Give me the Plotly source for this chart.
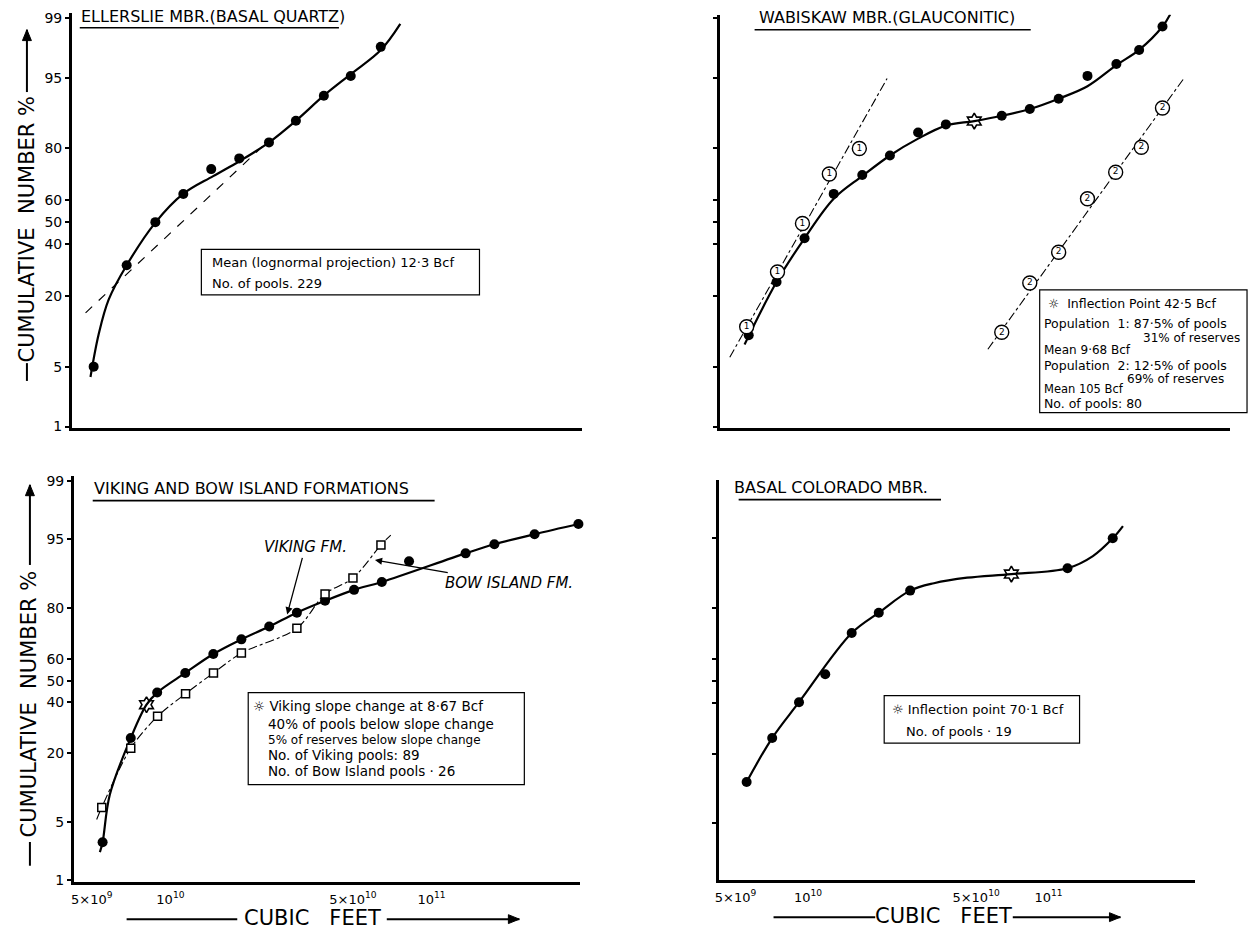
import math
from statistics import NormalDist
import plotly.graph_objects as go

# ---------------- data (cubic feet, cumulative number %) ----------------
# Ellerslie Mbr. (Basal Quartz)
ell_x = [5.09e9, 6.81e9, 8.77e9, 1.122e10, 1.435e10, 1.837e10, 2.388e10, 3.027e10, 3.873e10, 4.909e10, 6.397e10]
ell_pct = [5.0, 31.2, 50.0, 62.6, 72.7, 76.6, 81.8, 87.6, 92.5, 95.2, 97.7]
ell_curve_x = [4.95e9, 5.32e9, 5.81e9, 6.81e9, 8.77e9, 1.12e10, 1.46e10, 1.84e10, 2.39e10, 3.03e10, 3.87e10, 4.91e10, 6.4e10, 7.6e10]
ell_curve_pct = [3.9, 10.1, 18.9, 31.2, 49.8, 62.6, 70.0, 75.6, 81.8, 87.6, 92.5, 95.4, 97.5, 98.8]
ell_proj_x = [4.74e9, 2.41e10]
ell_proj_pct = [15.1, 82.7]

# Wabiskaw Mbr. (Glauconitic)
wab_x = [5.29e9, 6.84e9, 8.86e9, 1.16e10, 1.51e10, 1.95e10, 2.53e10, 3.27e10, 5.48e10, 7.10e10, 9.27e10, 1.21e11, 1.58e11, 1.95e11, 2.42e11]
wab_pct = [9.9, 24.8, 42.7, 62.6, 70.4, 77.6, 84.6, 86.7, 88.7, 90.1, 92.0, 95.2, 96.4, 97.5, 98.7]
wab_infl_x = [4.25e10]
wab_infl_pct = [87.5]
wab_curve_x = [5.09e9, 6.84e9, 8.86e9, 1.16e10, 1.51e10, 1.95e10, 2.53e10, 3.27e10, 4.25e10, 5.48e10, 7.10e10, 9.27e10, 1.21e11, 1.58e11, 1.95e11, 2.42e11, 2.60e11]
wab_curve_pct = [8.2, 24.8, 42.7, 60.5, 70.0, 77.6, 82.9, 86.4, 87.5, 88.7, 90.1, 92.0, 93.9, 96.3, 97.5, 98.7, 99.1]
pop1_x = [5.19e9, 6.90e9, 8.69e9, 1.114e10, 1.47e10]
pop1_pct = [11.7, 28.5, 49.4, 70.8, 79.9]
pop1_fit_x = [4.44e9, 1.90e10]
pop1_fit_pct = [6.2, 94.9]
pop2_x = [5.48e10, 7.10e10, 9.27e10, 1.21e11, 1.57e11, 1.99e11, 2.42e11]
pop2_pct = [10.5, 24.4, 36.6, 60.5, 71.5, 80.3, 90.3]
pop2_fit_x = [4.82e10, 2.93e11]
pop2_fit_pct = [7.4, 94.8]

# Viking and Bow Island formations
vik_x = [5.5e9, 7.05e9, 8.9e9, 1.14e10, 1.46e10, 1.87e10, 2.39e10, 3.05e10, 3.91e10, 5.05e10, 6.45e10, 8.2e10, 1.35e11, 1.74e11, 2.48e11, 3.65e11]
vik_pct = [3.0, 25.2, 44.5, 53.6, 62.2, 68.5, 73.6, 78.6, 82.4, 85.5, 87.5, 91.8, 93.1, 94.4, 95.6, 96.6]
vik_slope_x = [8.1e9]
vik_slope_pct = [39.0]
vik_curve_x = [5.37e9, 5.5e9, 5.86e9, 7.05e9, 8.1e9, 8.9e9, 1.14e10, 1.46e10, 1.87e10, 2.39e10, 3.05e10, 3.91e10, 5.05e10, 6.45e10, 1.35e11, 1.74e11, 2.48e11, 3.65e11]
vik_curve_pct = [2.3, 3.0, 9.2, 25.2, 39.0, 44.5, 53.6, 62.2, 68.5, 73.6, 78.6, 82.4, 85.5, 87.5, 93.1, 94.4, 95.6, 96.6]
bow_x = [5.46e9, 7.05e9, 8.93e9, 1.143e10, 1.462e10, 1.87e10, 3.05e10, 3.91e10, 5.0e10, 6.4e10]
bow_pct = [7.0, 21.6, 33.9, 44.0, 53.6, 62.6, 72.9, 84.4, 88.4, 94.3]
bow_curve_x = [5.22e9, 5.46e9, 7.05e9, 8.93e9, 1.143e10, 1.462e10, 1.87e10, 3.05e10, 3.91e10, 5.0e10, 6.4e10, 6.98e10]
bow_curve_pct = [5.3, 7.0, 21.6, 33.9, 44.0, 53.6, 62.6, 72.9, 84.4, 88.4, 94.3, 95.5]

# Basal Colorado Mbr.
col_x = [5.56e9, 7.1e9, 9.18e9, 1.18e10, 1.52e10, 1.97e10, 2.66e10, 1.20e11, 1.85e11]
col_pct = [12.1, 25.4, 40.2, 53.0, 70.9, 78.4, 85.1, 90.3, 95.0]
col_infl_x = [7.01e10]
col_infl_pct = [89.1]
col_curve_x = [5.56e9, 7.1e9, 9.18e9, 1.52e10, 1.97e10, 2.66e10, 3.34e10, 4.59e10, 7.01e10, 1.20e11, 1.53e11, 1.85e11, 2.04e11]
col_curve_pct = [12.1, 25.4, 40.2, 70.9, 78.4, 85.1, 87.0, 88.3, 89.1, 90.3, 92.5, 95.0, 96.3]

# axis ticks
pct_ticks = [1, 5, 20, 40, 50, 60, 80, 95, 99]
pct_tick_text = ["1", "5", "20", "40", "50", "60", "80", "95", "99"]
cf_ticks = [5e9, 1e10, 5e10, 1e11]
cf_tick_text = ["5×10<sup>9</sup>", "10<sup>10</sup>", "5×10<sup>10</sup>", "10<sup>11</sup>"]

# ---------------- helpers ----------------
ND = NormalDist()
def zq(pcts):
    return [ND.inv_cdf(p / 100.0) for p in pcts]

W, H = 1256, 940
FONT = "DejaVu Sans"
def fx(p):
    return p / W
def fy(p):
    return 1 - p / H

fig = go.Figure()

def add(xs, ps, ax, **kw):
    fig.add_trace(go.Scatter(x=xs, y=zq(ps), xaxis=ax[0], yaxis=ax[1], showlegend=False,
                             hoverinfo="skip", cliponaxis=False, **kw))

A_TL, A_TR, A_BL, A_BR = ("x", "y"), ("x2", "y2"), ("x3", "y3"), ("x4", "y4")
solid = dict(color="black", width=2.2, shape="spline", smoothing=1.0)
dot_mk = dict(symbol="circle", size=10, color="black")
star_mk = dict(symbol="hexagram-open", size=12, color="black", line=dict(width=1.6, color="black"))

# TL
add(ell_curve_x, ell_curve_pct, A_TL, mode="lines", line=solid)
add(ell_proj_x, ell_proj_pct, A_TL, mode="lines", line=dict(color="black", width=1.2, dash="dash"))
add(ell_x, ell_pct, A_TL, mode="markers", marker=dot_mk)

# TR
add(wab_curve_x, wab_curve_pct, A_TR, mode="lines", line=solid)
add(pop1_fit_x, pop1_fit_pct, A_TR, mode="lines", line=dict(color="black", width=1.1, dash="dashdot"))
add(pop2_fit_x, pop2_fit_pct, A_TR, mode="lines", line=dict(color="black", width=1.1, dash="dashdot"))
add(wab_x, wab_pct, A_TR, mode="markers", marker=dot_mk)
add(wab_infl_x, wab_infl_pct, A_TR, mode="markers", marker=star_mk)
circ_mk = dict(symbol="circle", size=14, color="white", line=dict(width=1.4, color="black"))
add(pop1_x, pop1_pct, A_TR, mode="markers+text", marker=circ_mk, text=["1"] * len(pop1_x),
    textposition="middle center", textfont=dict(family=FONT, size=9, color="black"))
add(pop2_x, pop2_pct, A_TR, mode="markers+text", marker=circ_mk, text=["2"] * len(pop2_x),
    textposition="middle center", textfont=dict(family=FONT, size=9, color="black"))

# BL
add(bow_curve_x, bow_curve_pct, A_BL, mode="lines", line=dict(color="black", width=1.1, dash="dashdot", shape="spline", smoothing=0.9))
add(vik_curve_x, vik_curve_pct, A_BL, mode="lines", line=solid)
add(vik_x, vik_pct, A_BL, mode="markers", marker=dot_mk)
add(vik_slope_x, vik_slope_pct, A_BL, mode="markers", marker=star_mk)
add(bow_x, bow_pct, A_BL, mode="markers", marker=dict(symbol="square", size=8, color="white", line=dict(width=1.5, color="black")))

# BR
add(col_curve_x, col_curve_pct, A_BR, mode="lines", line=solid)
add(col_x, col_pct, A_BR, mode="markers", marker=dot_mk)
add(col_infl_x, col_infl_pct, A_BR, mode="markers", marker=star_mk)

# ---------------- axes ----------------
def xax(xpx, xr, labels, anchor):
    return dict(type="log", domain=[fx(xpx[0]), fx(xpx[1])], range=list(xr), showgrid=False, zeroline=False,
                showline=True, linewidth=2.5, linecolor="black", ticks="",
                tickvals=cf_ticks, ticktext=cf_tick_text, showticklabels=labels,
                tickfont=dict(family=FONT, size=13, color="black"), ticklabelstandoff=4,
                anchor=anchor, fixedrange=True)

def yax(ypx, yr, labels, anchor):
    return dict(domain=[fy(ypx[1]), fy(ypx[0])], range=list(yr), showgrid=False, zeroline=False,
                showline=True, linewidth=2.5, linecolor="black", ticks="outside", ticklen=4,
                tickwidth=1.5, tickcolor="black", tickvals=zq(pct_ticks), ticktext=pct_tick_text,
                showticklabels=labels, tickfont=dict(family=FONT, size=14, color="black"),
                anchor=anchor, fixedrange=True)

fig.update_layout(
    width=W, height=H, margin=dict(l=0, r=0, t=0, b=0, pad=0), autosize=False,
    paper_bgcolor="white", plot_bgcolor="white", showlegend=False,
    xaxis=xax((68, 580), (9.623, 11.577), False, "y"),
    yaxis=yax((10, 430), (-2.348, 2.382), True, "x"),
    xaxis2=xax((718, 1230), (9.607, 11.655), False, "y2"),
    yaxis2=yax((12, 430), (-2.348, 2.359), False, "x2"),
    xaxis3=xax((70, 578), (9.630, 11.569), True, "y3"),
    yaxis3=yax((478, 888), (-2.339, 2.385), True, "x3"),
    xaxis4=xax((717, 1195), (9.629, 11.610), True, "y4"),
    yaxis4=yax((482, 886), (-2.297, 2.32), False, "x4"),
)

shapes = []
annotations = []

def line_px(x0, y0, x1, y1, w=1.5, dash="solid"):
    shapes.append(dict(type="line", xref="paper", yref="paper", x0=fx(x0), y0=fy(y0), x1=fx(x1), y1=fy(y1),
                       line=dict(color="black", width=w, dash=dash)))

def arrow_px(x0, y0, x1, y1, w=2):
    line_px(x0, y0, x1, y1, w)
    dx, dy = x1 - x0, y1 - y0
    L = math.hypot(dx, dy)
    ux, uy = dx / L, dy / L
    bx, by = x1 - 11 * ux, y1 - 11 * uy
    px_, py_ = -uy * 4.5, ux * 4.5
    pts = [(x1, y1), (bx + px_, by + py_), (bx - px_, by - py_)]
    path = "M {} {} L {} {} L {} {} Z".format(*[v for p in pts for v in (fx(p[0]), fy(p[1]))])
    shapes.append(dict(type="path", xref="paper", yref="paper", path=path,
                       line=dict(color="black", width=1), fillcolor="black"))

def rect_px(x0, y0, x1, y1):
    shapes.append(dict(type="rect", xref="paper", yref="paper", x0=fx(x0), y0=fy(y1), x1=fx(x1), y1=fy(y0),
                       line=dict(color="black", width=1.2), fillcolor="rgba(0,0,0,0)"))

def text_px(x, y, s, size=13, xanchor="left", angle=0):
    annotations.append(dict(xref="paper", yref="paper", x=fx(x), y=fy(y), text=s, showarrow=False,
                            xanchor=xanchor, yanchor="middle", textangle=angle, borderpad=0,
                            font=dict(family=FONT, size=size, color="black")))

# panel titles with underline
text_px(76, 14, "ELLERSLIE MBR.(BASAL QUARTZ)", 16)
line_px(76, 25, 336, 25, 1.6)
text_px(756, 15, "WABISKAW MBR.(GLAUCONITIC)", 16)
line_px(753, 27, 1030, 27, 1.6)
text_px(89, 491, "VIKING AND BOW ISLAND FORMATIONS", 16)
line_px(89, 503, 432, 503, 1.6)
text_px(731, 490, "BASAL COLORADO MBR.", 16)
line_px(737, 502, 940, 502, 1.6)

# y axis titles
text_px(23, 228, "CUMULATIVE  NUMBER %", 21, xanchor="center", angle=-90)
line_px(23, 382, 23, 364, 2)
arrow_px(23, 90, 23, 27)
text_px(26, 708, "CUMULATIVE  NUMBER %", 21, xanchor="center", angle=-90)
line_px(26, 872, 26, 848, 2)
arrow_px(26, 568, 26, 487)

# x axis titles
text_px(309, 925, "CUBIC   FEET", 21, xanchor="center")
line_px(123, 926, 234, 926, 2)
arrow_px(384, 926, 517, 926)
text_px(943, 923, "CUBIC   FEET", 21, xanchor="center")
line_px(772, 924, 874, 924, 2)
arrow_px(1012, 924, 1120, 924)

# TL box
rect_px(198, 249, 477, 295)
text_px(208, 262, "Mean (lognormal projection) 12·3 Bcf", 13)
text_px(208, 284, "No. of pools. 229", 13)

# TR box
rect_px(1039, 290, 1247, 414)
text_px(1046, 304, "☼  Inflection Point 42·5 Bcf", 12.5)
text_px(1042, 324, "Population  1: 87·5% of pools", 12.5)
text_px(1241, 339, "31% of reserves", 12, xanchor="right")
text_px(1042, 351, "Mean 9·68 Bcf", 12)
text_px(1042, 366, "Population  2: 12·5% of pools", 12.5)
text_px(1126, 380, "69% of reserves", 12)
text_px(1042, 390, "Mean 105 Bcf", 11.5)
text_px(1042, 405, "No. of pools: 80", 12.5)

# BL box
rect_px(245, 697, 522, 790)
text_px(249, 711, "☼ Viking slope change at 8·67 Bcf", 13.5)
text_px(264, 729, "40% of pools below slope change", 13.5)
text_px(264, 745, "5% of reserves below slope change", 12)
text_px(264, 760, "No. of Viking pools: 89", 13.5)
text_px(264, 776, "No. of Bow Island pools · 26", 13.5)

# BR box
rect_px(883, 700, 1079, 748)
text_px(890, 714, "☼ Inflection point 70·1 Bcf", 13)
text_px(904, 736, "No. of pools · 19", 13)

# formation labels with arrows (data coordinates: log10 of cubic feet, normal quantile)
annotations.append(dict(xref="x3", yref="y3", x=math.log10(2.8e10), y=ND.inv_cdf(0.78), text="VIKING FM.",
                        showarrow=True, ax=18, ay=-67, arrowhead=2, arrowsize=1.1, arrowwidth=1.3,
                        arrowcolor="black", font=dict(family=FONT, size=15, color="black", style="italic")))
annotations.append(dict(xref="x3", yref="y3", x=math.log10(6.07e10), y=ND.inv_cdf(0.92), text="BOW ISLAND FM.",
                        showarrow=True, ax=134, ay=23, arrowhead=2, arrowsize=1.1, arrowwidth=1.3,
                        arrowcolor="black", font=dict(family=FONT, size=15, color="black", style="italic")))

fig.update_layout(shapes=shapes, annotations=annotations)
fig.write_html("out.html", config={"displayModeBar": False},
               post_script="document.body.style.margin='0';document.body.style.overflow='hidden';")
